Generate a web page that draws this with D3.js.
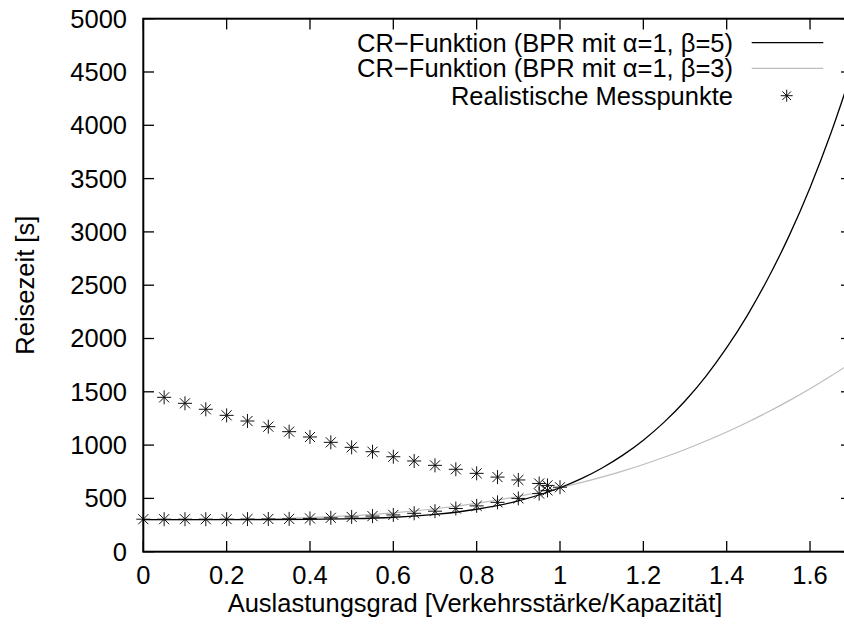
<!DOCTYPE html>
<html>
<head>
<meta charset="utf-8">
<style>
  body, html { margin: 0; padding: 0; background: #fff; }
  svg { display: block; }
  text { font-family: "Liberation Sans", Arial, Helvetica, sans-serif; }
</style>
</head>
<body>
<svg id="svg" width="844" height="630"></svg>
<script src="https://d3js.org/d3.v7.min.js"></script>
<script>
// Curve samples (x = Auslastungsgrad, y = Reisezeit in s)
const curveX = [0, 0.1, 0.2, 0.3, 0.4, 0.5, 0.6, 0.7, 0.8, 0.9, 1.0, 1.05, 1.1, 1.15, 1.2,
  1.25, 1.3, 1.35, 1.4, 1.45, 1.5, 1.55, 1.6, 1.65, 1.7]
const beta5 = [300, 300, 300.1, 300.7, 303.1, 309.4, 323.3, 350.4, 398.3, 477.1, 600, 682.9,
  783.2, 903.4, 1046.5, 1215.5, 1413.9, 1645.2, 1913.5, 2220, 2570, 2965, 3415, 3925, 4500]
const beta3 = [300, 300.3, 302.4, 308.1, 319.2, 337.5, 364.8, 402.9, 453.6, 518.7, 600, 647.3,
  699.3, 756.3, 818.4, 885.9, 959.1, 1038.1, 1123.2, 1214.6, 1312.5, 1417.2, 1528.8, 1647.6, 1773.9]

// Measured points: lower (free flow) branch and upper (congested) branch
const lowerX = [0, 0.05, 0.1, 0.15, 0.2, 0.25, 0.3, 0.35, 0.4, 0.45, 0.5, 0.55, 0.6, 0.65, 0.7,
  0.75, 0.8, 0.85, 0.9, 0.95, 0.97, 1.0]
const lowerY = [305, 305, 305, 305, 305, 306, 307, 308, 312, 318, 326, 334, 345, 360, 380,
  405, 430, 463, 500, 545, 575, 605]
const upperX = [0.05, 0.1, 0.15, 0.2, 0.25, 0.3, 0.35, 0.4, 0.45, 0.5, 0.55, 0.6, 0.65, 0.7,
  0.75, 0.8, 0.85, 0.9, 0.95, 0.97]
const upperY = [1448, 1392, 1336, 1279, 1226, 1173, 1126, 1076, 1026, 979, 938, 891, 851, 810,
  773, 735, 700, 673, 640, 622]

const xTicks = [0, 0.2, 0.4, 0.6, 0.8, 1, 1.2, 1.4, 1.6]
const yTicks = [0, 500, 1000, 1500, 2000, 2500, 3000, 3500, 4000, 4500, 5000]

const legendLabels = ['CR\u2212Funktion (BPR mit \u03b1=1, \u03b2=5)',
  'CR\u2212Funktion (BPR mit \u03b1=1, \u03b2=3)',
  'Realistische Messpunkte']

const pLeft = 143.3, pRight = 851.7, pTop = 18.7, pBottom = 551.7
const fs = 25.5

const svg = d3.select('#svg')

const x = d3.scaleLinear().domain([0, 1.7]).range([pLeft, pRight])
const y = d3.scaleLinear().domain([0, 5000]).range([pBottom, pTop])

svg.append('defs').append('clipPath').attr('id', 'clip')
  .append('rect')
  .attr('x', pLeft).attr('y', pTop)
  .attr('width', pRight - pLeft).attr('height', pBottom - pTop)

// ticks (inward on all four sides, like gnuplot)
const tl = 10.7
const ticks = svg.append('g').attr('stroke', '#000').attr('stroke-width', 1.3)
xTicks.forEach(t => {
  ticks.append('line').attr('x1', x(t)).attr('x2', x(t)).attr('y1', pBottom).attr('y2', pBottom - tl)
  ticks.append('line').attr('x1', x(t)).attr('x2', x(t)).attr('y1', pTop).attr('y2', pTop + tl)
})
yTicks.forEach(t => {
  ticks.append('line').attr('x1', pLeft).attr('x2', pLeft + tl).attr('y1', y(t)).attr('y2', y(t))
  ticks.append('line').attr('x1', pRight).attr('x2', pRight - tl).attr('y1', y(t)).attr('y2', y(t))
})

// tick labels
svg.append('g').selectAll('text')
  .data(xTicks)
  .join('text')
  .attr('x', d => x(d))
  .attr('y', 584)
  .attr('text-anchor', 'middle')
  .attr('font-size', fs)
  .text(d => d3.format('')(d))

svg.append('g').selectAll('text')
  .data(yTicks)
  .join('text')
  .attr('x', 127)
  .attr('y', d => y(d))
  .attr('dy', '0.35em')
  .attr('text-anchor', 'end')
  .attr('font-size', fs)
  .text(d => d)

// axis titles
svg.append('text')
  .attr('x', 475)
  .attr('y', 612)
  .attr('text-anchor', 'middle')
  .attr('font-size', fs)
  .text('Auslastungsgrad [Verkehrsstärke/Kapazität]')

svg.append('text')
  .attr('transform', `translate(34, ${(pTop + pBottom) / 2}) rotate(-90)`)
  .attr('text-anchor', 'middle')
  .attr('font-size', fs)
  .text('Reisezeit [s]')

// curves
const line = d3.line()
  .x((d, i) => x(curveX[i]))
  .y(d => y(d))
  .curve(d3.curveMonotoneX)

const plot = svg.append('g').attr('clip-path', 'url(#clip)')

plot.append('path')
  .attr('d', line(beta3))
  .attr('fill', 'none')
  .attr('stroke', '#bdbdbd')
  .attr('stroke-width', 1.2)

plot.append('path')
  .attr('d', line(beta5))
  .attr('fill', 'none')
  .attr('stroke', '#000')
  .attr('stroke-width', 1.3)

// asterisk marker (gnuplot point type 3)
function star(g, cx, cy, r) {
  const d = r * 0.72
  g.append('path')
    .attr('d', `M${cx - r},${cy}H${cx + r}M${cx},${cy - r}V${cy + r}` +
      `M${cx - d},${cy - d}L${cx + d},${cy + d}M${cx - d},${cy + d}L${cx + d},${cy - d}`)
    .attr('stroke', '#111')
    .attr('stroke-width', 1)
    .attr('fill', 'none')
}

const pts = svg.append('g')
lowerX.forEach((v, i) => star(pts, x(v), y(lowerY[i]), 7))
upperX.forEach((v, i) => star(pts, x(v), y(upperY[i]), 7))

// legend
const legendY = [42.7, 68.3, 95.7]
const legend = svg.append('g')
legendLabels.forEach((lab, i) => {
  legend.append('text')
    .attr('x', 733)
    .attr('y', legendY[i])
    .attr('dy', '0.35em')
    .attr('text-anchor', 'end')
    .attr('font-size', fs)
    .text(lab)
})
legend.append('line').attr('x1', 751.7).attr('x2', 823.3)
  .attr('y1', legendY[0]).attr('y2', legendY[0])
  .attr('stroke', '#000').attr('stroke-width', 1.3)
legend.append('line').attr('x1', 751.7).attr('x2', 823.3)
  .attr('y1', legendY[1]).attr('y2', legendY[1])
  .attr('stroke', '#bdbdbd').attr('stroke-width', 1.2)
star(legend, 786.7, legendY[2], 6)

// frame
svg.append('rect')
  .attr('x', pLeft).attr('y', pTop)
  .attr('width', pRight - pLeft).attr('height', pBottom - pTop)
  .attr('fill', 'none')
  .attr('stroke', '#000')
  .attr('stroke-width', 2)
</script>
</body>
</html>
